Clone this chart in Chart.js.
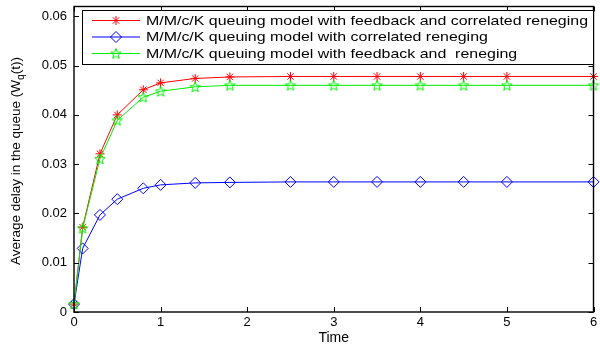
<!DOCTYPE html>
<html>
<head>
<meta charset="utf-8">
<script src="https://cdn.jsdelivr.net/npm/chart.js@4"></script>
<style>
  html, body { margin: 0; padding: 0; background: #fff; overflow: hidden; }
  #wrap { width: 600px; height: 350px; }
</style>
</head>
<body>
<div id="wrap"><canvas id="chart" width="600" height="350"></canvas></div>
<script>
// datos
const times = [0, 0.1, 0.3, 0.5, 0.8, 1.0, 1.4, 1.8, 2.5, 3, 3.5, 4, 4.5, 5, 6];
const feedbackCorrelated = [0.0016, 0.0172, 0.0321, 0.0400, 0.0451, 0.0465, 0.0474, 0.0477, 0.0478, 0.0478, 0.0478, 0.0478, 0.0478, 0.0478, 0.0478];
const correlatedOnly = [0.0016, 0.0129, 0.0197, 0.0229, 0.0251, 0.0258, 0.0262, 0.0263, 0.0264, 0.0264, 0.0264, 0.0264, 0.0264, 0.0264, 0.0264];
const feedbackOnly = [0.0016, 0.0170, 0.0311, 0.0389, 0.0436, 0.0448, 0.0457, 0.0460, 0.0460, 0.0460, 0.0460, 0.0460, 0.0460, 0.0460, 0.0460];
const seriesLabels = [
  "M/M/c/K queuing model with feedback and correlated reneging",
  "M/M/c/K queuing model with correlated reneging",
  "M/M/c/K queuing model with feedback and  reneging"
];
const xTicks = [0, 1, 2, 3, 4, 5, 6];
const yTicks = [0, 0.01, 0.02, 0.03, 0.04, 0.05, 0.06];

const RED = "#ff0000", BLUE = "#0000ff", GREEN = "#00ee00";
const FONT = "'Liberation Sans', Arial, sans-serif";

// estrella de cinco puntas (pentagrama) como imagen de punto
function pentagram(color, r) {
  const c = document.createElement("canvas");
  const s = Math.ceil(2 * r + 3);
  c.width = s; c.height = s;
  const g = c.getContext("2d");
  g.strokeStyle = color;
  g.lineWidth = 1;
  g.beginPath();
  for (let i = 0; i < 10; i++) {
    const rr = i % 2 === 0 ? r : r * 0.42;
    const a = -Math.PI / 2 + i * Math.PI / 5;
    const px = s / 2 + rr * Math.cos(a), py = s / 2 + rr * Math.sin(a) + 0.5;
    if (i === 0) g.moveTo(px, py); else g.lineTo(px, py);
  }
  g.closePath();
  g.stroke();
  return c;
}
const starImg = pentagram(GREEN, 5.5);

const toXY = (ys) => ys.map((y, i) => ({ x: times[i], y: y }));

function drawAsterisk(ctx, x, y, r, color) {
  ctx.strokeStyle = color; ctx.lineWidth = 1;
  ctx.beginPath();
  ctx.moveTo(x - r, y); ctx.lineTo(x + r, y);
  ctx.moveTo(x, y - r); ctx.lineTo(x, y + r);
  const d = r * 0.72;
  ctx.moveTo(x - d, y - d); ctx.lineTo(x + d, y + d);
  ctx.moveTo(x - d, y + d); ctx.lineTo(x + d, y - d);
  ctx.stroke();
}
function drawDiamond(ctx, x, y, r, color) {
  ctx.strokeStyle = color; ctx.lineWidth = 1;
  ctx.beginPath();
  ctx.moveTo(x, y - r); ctx.lineTo(x + r, y); ctx.lineTo(x, y + r); ctx.lineTo(x - r, y);
  ctx.closePath();
  ctx.stroke();
}

// marco, marcas hacia dentro, leyenda y titulos
const decor = {
  id: "decor",
  afterDraw(chart) {
    const ctx = chart.ctx;
    const a = chart.chartArea;
    const xs = chart.scales.x, ys = chart.scales.y;
    ctx.save();
    // marcas
    ctx.strokeStyle = "#000"; ctx.lineWidth = 1;
    ctx.beginPath();
    xTicks.forEach(v => {
      const px = Math.round(xs.getPixelForValue(v)) + 0.5;
      ctx.moveTo(px, a.bottom); ctx.lineTo(px, a.bottom - 5);
      ctx.moveTo(px, a.top); ctx.lineTo(px, a.top + 5);
    });
    yTicks.forEach(v => {
      const py = Math.round(ys.getPixelForValue(v)) + 0.5;
      ctx.moveTo(a.left, py); ctx.lineTo(a.left + 5, py);
      ctx.moveTo(a.right, py); ctx.lineTo(a.right - 5, py);
    });
    ctx.stroke();
    // marco
    ctx.lineWidth = 1.4;
    ctx.strokeRect(a.left, a.top, a.right - a.left, a.bottom - a.top);

    // leyenda
    const bx = 82, by = 10, bw = 511, bh = 54;
    ctx.fillStyle = "#fff";
    ctx.fillRect(bx, by, bw, bh);
    ctx.lineWidth = 1;
    ctx.strokeStyle = "#000";
    ctx.strokeRect(bx + 0.5, by + 0.5, bw, bh);
    const rows = [20.5, 37, 53.5];
    const colors = [RED, BLUE, GREEN];
    ctx.font = "12px " + FONT;
    ctx.textBaseline = "middle";
    const fullW = ctx.measureText(seriesLabels[0]).width;
    const sx = (588 - 146) / fullW;
    rows.forEach((ry, i) => {
      ctx.strokeStyle = colors[i]; ctx.lineWidth = 1;
      ctx.beginPath(); ctx.moveTo(92, ry); ctx.lineTo(140, ry); ctx.stroke();
      if (i === 0) drawAsterisk(ctx, 116, ry, 4.5, RED);
      if (i === 1) drawDiamond(ctx, 116, ry, 5.5, BLUE);
      if (i === 2) ctx.drawImage(starImg, 116 - starImg.width / 2, ry - starImg.height / 2);
      ctx.save();
      ctx.translate(146, ry + 0.5);
      ctx.scale(sx, 1.08);
      ctx.fillStyle = "#000";
      ctx.fillText(seriesLabels[i], 0, 0);
      ctx.restore();
    });

    // titulo del eje x
    ctx.fillStyle = "#000";
    ctx.font = "14px " + FONT;
    ctx.textAlign = "center";
    ctx.textBaseline = "middle";
    ctx.fillText("Time", (a.left + a.right) / 2, 338);

    // titulo del eje y con subindice
    const main = "Average delay in the queue (W", sub = "q", tail = "(t))";
    const f1 = "13px " + FONT;
    const f2 = "10px " + FONT;
    ctx.font = f1; const w1 = ctx.measureText(main).width, w3 = ctx.measureText(tail).width;
    ctx.font = f2; const w2 = ctx.measureText(sub).width;
    const total = w1 + w2 + w3;
    ctx.translate(20, 161);
    ctx.rotate(-Math.PI / 2);
    ctx.scale(208 / total, 1);
    ctx.textAlign = "left";
    ctx.textBaseline = "alphabetic";
    let tx = -total / 2;
    ctx.font = f1; ctx.fillText(main, tx, 0); tx += w1;
    ctx.font = f2; ctx.fillText(sub, tx, 4); tx += w2;
    ctx.font = f1; ctx.fillText(tail, tx, 0);
    ctx.restore();
  }
};

const tickFont = { family: FONT, size: 13 };

new Chart(document.getElementById("chart"), {
  type: "line",
  plugins: [decor],
  data: {
    datasets: [
      {
        label: seriesLabels[0], data: toXY(feedbackCorrelated), order: 3, clip: false,
        borderColor: RED, borderWidth: 1, pointStyle: "star", pointRadius: 4.5,
        pointBorderColor: RED, pointBorderWidth: 1, backgroundColor: "transparent"
      },
      {
        label: seriesLabels[1], data: toXY(correlatedOnly), order: 2, clip: false,
        borderColor: BLUE, borderWidth: 1, pointStyle: "rectRot", pointRadius: 5.5,
        pointBorderColor: BLUE, pointBorderWidth: 1, pointBackgroundColor: "transparent", backgroundColor: "transparent"
      },
      {
        label: seriesLabels[2], data: toXY(feedbackOnly), order: 1, clip: false,
        borderColor: GREEN, borderWidth: 1, pointStyle: starImg,
        backgroundColor: "transparent"
      }
    ]
  },
  options: {
    responsive: false,
    animation: false,
    layout: { padding: { top: 4, right: 3 } },
    elements: { line: { tension: 0 } },
    plugins: { legend: { display: false }, tooltip: { enabled: false } },
    scales: {
      x: {
        type: "linear", min: 0, max: 6,
        grid: { display: false, tickLength: 0 }, border: { display: false },
        afterBuildTicks: (s) => { s.ticks = xTicks.map(v => ({ value: v })); },
        afterFit: (s) => { s.height = 38; s.paddingLeft = 0; s.paddingRight = 0; },
        ticks: { color: "#000", font: tickFont, padding: 3, maxRotation: 0, callback: (v) => String(v) }
      },
      y: {
        min: 0, max: 0.062,
        grid: { display: false, tickLength: 0 }, border: { display: false },
        afterBuildTicks: (s) => { s.ticks = yTicks.map(v => ({ value: v })); },
        afterFit: (s) => { s.width = 74; s.paddingTop = 0; s.paddingBottom = 0; },
        ticks: { color: "#000", font: tickFont, padding: 7, callback: (v) => v === 0 ? "0" : v.toFixed(2) }
      }
    }
  }
});
</script>
</body>
</html>
